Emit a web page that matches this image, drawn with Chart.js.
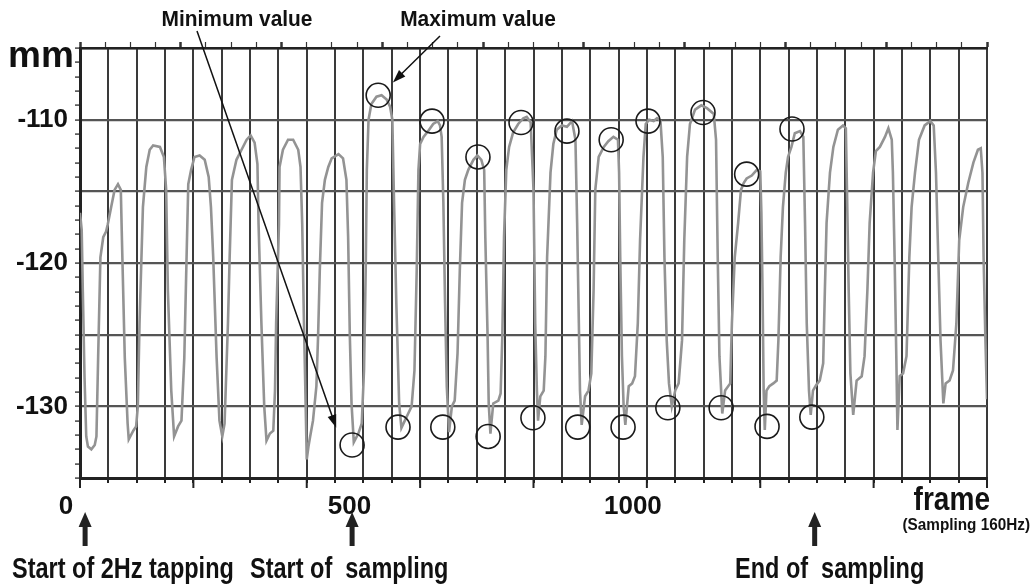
<!DOCTYPE html>
<html>
<head>
<meta charset="utf-8">
<script src="https://cdn.jsdelivr.net/npm/chart.js@4"></script>
<style>
  html, body { margin: 0; padding: 0; background: #fff; }
  canvas { display: block; }
</style>
</head>
<body>
<canvas id="tapChart" width="1035" height="585"></canvas>
<script>
// displacement trace (frame, mm)
const frames = [
  0, 3, 5, 8, 11, 14, 20, 26, 29, 32, 36, 41, 46, 49, 55, 61, 67, 72, 74, 79,
  84, 86, 94, 99, 102, 105, 111, 117, 123, 129, 141, 148, 152, 155, 161, 166, 173, 179, 184, 188,
  191, 196, 202, 211, 220, 227, 231, 235, 241, 246, 251, 255, 261, 264, 268, 276, 285, 294, 301, 308,
  313, 315, 320, 325, 329, 335, 341, 344, 346, 351, 352, 358, 367, 376, 385, 389, 392, 395, 398, 400,
  403, 406, 411, 417, 420, 423, 427, 432, 438, 444, 456, 464, 470, 473, 476, 479, 483, 491, 497, 501,
  504, 506, 509, 514, 523, 532, 541, 547, 551, 554, 558, 563, 567, 573, 579, 585, 590, 594, 597, 600,
  606, 614, 623, 631, 635, 638, 641, 644, 647, 651, 656, 661, 666, 670, 674, 679, 685, 694, 701, 708,
  713, 715, 719, 721, 724, 729, 738, 742, 745, 748, 752, 757, 764, 773, 782, 788, 795, 800, 803, 806,
  808, 812, 818, 821, 824, 830, 835, 841, 850, 859, 868, 874, 877, 880, 882, 885, 891, 897, 902, 906,
  909, 915, 924, 932, 941, 949, 951, 953, 956, 959, 962, 968, 974, 979, 984, 988, 994, 998, 1004, 1012,
  1018, 1024, 1028, 1031, 1035, 1039, 1044, 1050, 1056, 1062, 1066, 1071, 1076, 1085, 1096, 1106, 1118, 1122, 1125, 1128,
  1131, 1133, 1138, 1147, 1150, 1155, 1161, 1166, 1171, 1176, 1185, 1194, 1200, 1202, 1204, 1206, 1208, 1211, 1216, 1223,
  1229, 1232, 1236, 1240, 1245, 1249, 1255, 1261, 1270, 1276, 1279, 1282, 1286, 1289, 1293, 1299, 1305, 1311, 1314, 1317,
  1323, 1329, 1337, 1346, 1351, 1353, 1356, 1359, 1364, 1370, 1379, 1384, 1389, 1393, 1399, 1404, 1411, 1420, 1426, 1432,
  1434, 1437, 1440, 1442, 1446, 1452, 1458, 1463, 1467, 1473, 1480, 1490, 1500, 1506, 1510, 1514, 1518, 1523, 1527, 1534,
  1540, 1546, 1551, 1558, 1567, 1576, 1584, 1589, 1592, 1594, 1597, 1600
];
const mm = [
  -116.5, -117.7, -122.0, -128.0, -132.1, -132.8, -133.0, -132.7, -132.1, -126.6, -119.6, -118.2, -117.8, -117.3, -116.1, -114.9, -114.5, -114.9, -118.4, -126.6,
  -131.2, -132.3, -131.7, -131.4, -130.0, -124.2, -116.1, -113.3, -112.1, -111.8, -111.9, -112.6, -114.9, -121.9, -128.9, -132.1, -131.4, -131.0, -126.6, -119.6,
  -114.5, -113.5, -112.6, -112.5, -112.8, -114.0, -116.1, -119.6, -126.6, -131.0, -132.1, -131.2, -124.2, -119.6, -114.2, -112.8, -112.1, -111.4, -111.1, -111.6,
  -113.1, -117.3, -124.2, -130.0, -132.4, -131.9, -131.7, -128.9, -124.2, -117.3, -113.3, -112.1, -111.4, -111.4, -112.1, -113.3, -117.3, -124.0, -129.8, -133.7,
  -132.8, -132.1, -131.0, -128.6, -125.1, -120.5, -115.8, -114.2, -113.3, -112.7, -112.4, -112.7, -114.2, -118.2, -125.1, -129.8, -132.5, -131.9, -131.2, -127.5,
  -120.5, -113.5, -110.0, -108.9, -108.4, -108.3, -108.6, -109.1, -110.0, -115.8, -122.8, -129.8, -131.5, -131.0, -130.5, -130.0, -127.5, -120.5, -113.5, -111.7,
  -111.2, -110.8, -110.3, -110.1, -110.4, -111.2, -115.8, -122.8, -128.6, -131.8, -130.0, -129.6, -126.3, -120.5, -115.8, -114.2, -113.5, -112.8, -112.5, -112.8,
  -113.5, -118.2, -125.1, -129.8, -131.9, -129.8, -129.6, -129.1, -125.1, -118.2, -113.5, -111.9, -110.9, -110.3, -109.9, -109.8, -110.2, -114.9, -124.2, -128.9,
  -131.0, -129.3, -128.9, -126.5, -119.6, -113.7, -111.7, -110.7, -110.4, -110.5, -110.1, -111.4, -117.2, -124.2, -128.9, -131.3, -129.3, -128.9, -127.7, -121.9,
  -114.9, -112.6, -111.9, -111.5, -111.2, -111.4, -113.7, -119.6, -126.5, -130.0, -131.3, -128.6, -128.4, -127.9, -124.2, -118.4, -112.6, -110.3, -110.0, -110.1,
  -109.9, -110.1, -112.6, -119.6, -125.4, -128.4, -130.0, -128.9, -128.4, -125.4, -118.4, -112.6, -110.3, -109.3, -109.0, -109.2, -109.6, -111.4, -119.6, -126.5,
  -128.9, -130.5, -128.9, -128.4, -124.2, -119.6, -117.2, -114.9, -114.4, -114.1, -113.9, -113.5, -113.6, -116.5, -121.9, -128.9, -131.65, -128.9, -128.6, -128.4,
  -128.2, -125.4, -119.6, -116.1, -113.7, -112.6, -111.9, -110.95, -110.8, -111.2, -117.2, -124.2, -128.9, -130.6, -128.9, -128.5, -128.2, -127.0, -121.9, -117.2,
  -113.7, -111.9, -110.7, -110.4, -110.6, -114.9, -121.9, -127.7, -130.6, -128.2, -127.9, -126.5, -121.9, -117.2, -113.7, -112.2, -111.9, -111.2, -110.6, -111.4,
  -113.7, -119.6, -126.5, -131.65, -127.9, -127.7, -126.5, -119.6, -116.1, -113.7, -111.4, -110.4, -110.1, -110.4, -113.7, -119.6, -125.4, -129.8, -128.4, -128.2,
  -127.5, -124.2, -118.4, -116.1, -114.4, -113.0, -112.1, -112.0, -113.7, -119.6, -125.0, -129.5
];

// circled maxima / minima during sampling
const maxFrames = [526, 621, 702, 778, 859, 937, 1002, 1099, 1176, 1256];
const maxMm = [-108.3, -110.1, -112.6, -110.2, -110.8, -111.4, -110.1, -109.5, -113.8, -110.65];
const minFrames = [480, 561, 640, 720, 799, 878, 958, 1037, 1131, 1212, 1291];
const minMm = [-132.7, -131.45, -131.45, -132.1, -130.8, -131.45, -131.45, -130.1, -130.1, -131.4, -130.75];

const xTickLabels = [0, 500, 1000];
const yTickLabels = [-110, -120, -130];

const FONT = '"Liberation Sans", Arial, sans-serif';

function narrowText(ctx, str, x, y, size, align, sx) {
  ctx.save();
  ctx.translate(x, y);
  ctx.scale(sx, 1);
  ctx.font = 'bold ' + size + 'px ' + FONT;
  ctx.textAlign = align;
  ctx.textBaseline = 'alphabetic';
  ctx.fillStyle = '#111';
  ctx.fillText(str, 0, 0);
  ctx.restore();
}

function thinArrow(ctx, x0, y0, x1, y1) {
  const a = Math.atan2(y1 - y0, x1 - x0);
  ctx.save();
  ctx.strokeStyle = '#111';
  ctx.fillStyle = '#111';
  ctx.lineWidth = 1.5;
  ctx.beginPath();
  ctx.moveTo(x0, y0);
  ctx.lineTo(x1 - 8 * Math.cos(a), y1 - 8 * Math.sin(a));
  ctx.stroke();
  ctx.translate(x1, y1);
  ctx.rotate(a);
  ctx.beginPath();
  ctx.moveTo(0, 0);
  ctx.lineTo(-13, -4.5);
  ctx.lineTo(-13, 4.5);
  ctx.closePath();
  ctx.fill();
  ctx.restore();
}

function upArrow(ctx, x, top, bottom) {
  ctx.save();
  ctx.fillStyle = '#222';
  ctx.fillRect(x - 2.5, top + 12, 5, bottom - top - 12);
  ctx.beginPath();
  ctx.moveTo(x, top);
  ctx.lineTo(x - 6.5, top + 15);
  ctx.lineTo(x + 6.5, top + 15);
  ctx.closePath();
  ctx.fill();
  ctx.restore();
}

const notes = {
  id: 'notes',
  afterDraw(chart) {
    const { ctx, chartArea, scales: { x, y } } = chart;

    // longer ticks every 200 frames on the bottom axis
    ctx.save();
    ctx.strokeStyle = '#222';
    ctx.lineWidth = 2;
    for (let f = 0; f <= 1600; f += 200) {
      const px = x.getPixelForValue(f);
      ctx.beginPath();
      ctx.moveTo(px, chartArea.bottom);
      ctx.lineTo(px, chartArea.bottom + 10);
      ctx.stroke();
    }
    ctx.restore();

    ctx.save();
    ctx.fillStyle = '#111';
    ctx.font = 'bold 37px ' + FONT;
    ctx.textAlign = 'left';
    ctx.fillText('mm', 8, 67);
    ctx.restore();

    narrowText(ctx, 'Minimum value', 237, 26, 22, 'center', 0.95);
    narrowText(ctx, 'Maximum value', 478, 26, 22, 'center', 0.95);
    thinArrow(ctx, 197, 31, x.getPixelForValue(452), y.getPixelForValue(-131.5));
    thinArrow(ctx, 440, 36, x.getPixelForValue(552), y.getPixelForValue(-107.4));

    narrowText(ctx, 'frame', 990, 510, 33, 'right', 0.85);
    narrowText(ctx, '(Sampling 160Hz)', 1030, 530, 17, 'right', 0.9);

    upArrow(ctx, x.getPixelForValue(9), 512, 546);
    upArrow(ctx, x.getPixelForValue(480), 512, 546);
    upArrow(ctx, x.getPixelForValue(1296), 512, 546);

    narrowText(ctx, 'Start of 2Hz tapping', 12, 578, 29, 'left', 0.81);
    narrowText(ctx, 'Start of  sampling', 250, 578, 29, 'left', 0.81);
    narrowText(ctx, 'End of  sampling', 735, 578, 29, 'left', 0.81);
  }
};

const ring = {
  showLine: false,
  pointRadius: 12,
  pointHoverRadius: 12,
  pointBorderWidth: 1.6,
  pointBorderColor: '#1a1a1a',
  pointBackgroundColor: 'rgba(0,0,0,0)',
  borderColor: '#1a1a1a',
  backgroundColor: 'rgba(0,0,0,0)'
};

const data = {
  datasets: [
    Object.assign({ label: 'Maximum value', data: maxFrames.map((f, i) => ({ x: f, y: maxMm[i] })) }, ring),
    Object.assign({ label: 'Minimum value', data: minFrames.map((f, i) => ({ x: f, y: minMm[i] })) }, ring),
    {
      label: 'mm',
      data: frames.map((f, i) => ({ x: f, y: mm[i] })),
      borderColor: '#939393',
      borderWidth: 2.6,
      pointRadius: 0,
      tension: 0,
      fill: false
    }
  ]
};

const config = {
  type: 'line',
  data: data,
  options: {
    responsive: false,
    animation: false,
    devicePixelRatio: 1,
    layout: { padding: { left: 0, right: 48, top: 0, bottom: 0 } },
    plugins: {
      legend: { display: false },
      tooltip: { enabled: false }
    },
    scales: {
      x: {
        type: 'linear',
        position: 'bottom',
        min: 0,
        max: 1600,
        afterFit: (axis) => { axis.height = 107; },
        ticks: {
          stepSize: 50,
          autoSkip: false,
          maxRotation: 0,
          labelOffset: -14,
          padding: 8,
          color: '#111',
          font: { family: FONT, size: 26, weight: 'bold' },
          callback: (v) => (xTickLabels.includes(v) ? String(v) : '')
        },
        grid: { color: '#3a3a3a', lineWidth: 2, tickLength: 5, tickColor: '#222' },
        border: { color: '#222', width: 3 }
      },
      top: {
        type: 'linear',
        position: 'top',
        min: 0,
        max: 9,
        afterFit: (axis) => { axis.height = 48; },
        ticks: { stepSize: 0.25, autoSkip: false, callback: () => '' },
        grid: {
          drawOnChartArea: false,
          tickLength: 6,
          tickColor: '#333',
          tickWidth: (ctx) => (ctx.tick && Number.isInteger(ctx.tick.value) ? 2.5 : 1.2)
        },
        border: { color: '#222', width: 2.5 }
      },
      y: {
        type: 'linear',
        min: -135,
        max: -105,
        afterFit: (axis) => { axis.width = 80; },
        ticks: {
          stepSize: 1,
          autoSkip: false,
          padding: 7,
          color: '#111',
          font: { family: FONT, size: 26, weight: 'bold' },
          callback: (v) => (yTickLabels.includes(v) ? String(v) : '')
        },
        grid: {
          color: (ctx) => (ctx.tick && ctx.tick.value % 5 === 0 ? '#555' : 'rgba(0,0,0,0)'),
          lineWidth: 2.2,
          tickLength: 5,
          tickColor: '#444',
          tickWidth: 1.5
        },
        border: { color: '#222', width: 3 }
      }
    }
  },
  plugins: [notes]
};

new Chart(document.getElementById('tapChart'), config);
</script>
</body>
</html>
